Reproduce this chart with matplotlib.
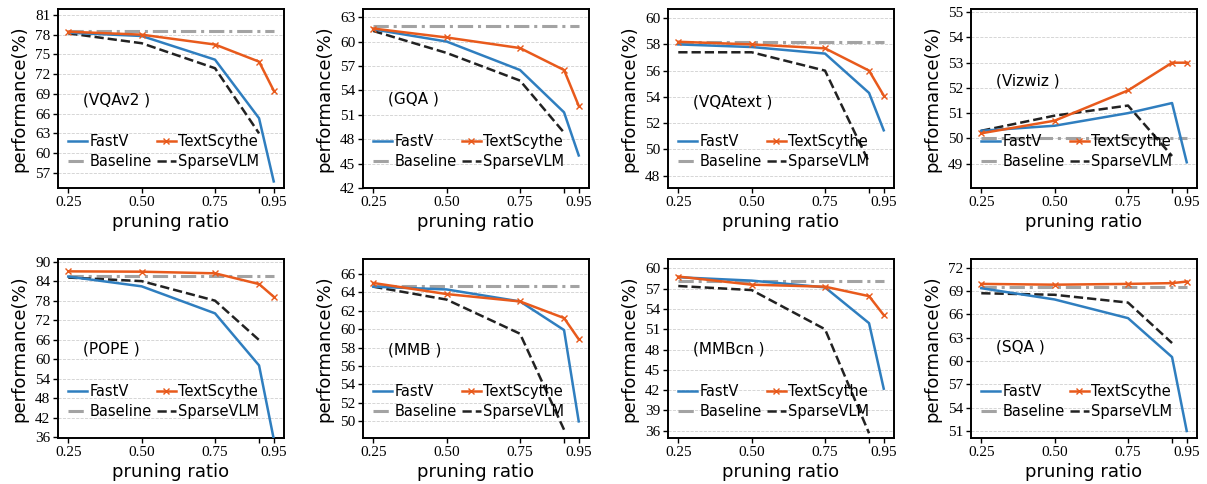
import numpy as np
import matplotlib
matplotlib.use("Agg")
import matplotlib.pyplot as plt

# pruning ratios
ratios = [0.25, 0.50, 0.75, 0.90, 0.95]
sparse_ratios = [0.25, 0.50, 0.75, 0.90]

datasets = ["VQAv2", "GQA", "VQAtext", "Vizwiz", "POPE", "MMB", "MMBcn", "SQA"]

fastv = {
    "VQAv2": [78.3, 77.8, 74.2, 65.3, 55.7],
    "GQA": [61.5, 60.0, 56.5, 51.3, 46.0],
    "VQAtext": [58.0, 57.8, 57.3, 54.3, 51.45],
    "Vizwiz": [50.3, 50.5, 51.0, 51.4, 49.05],
    "POPE": [85.4, 82.4, 74.1, 58.1, 35.5],
    "MMB": [64.6, 64.3, 63.0, 59.9, 50.0],
    "MMBcn": [58.7, 58.2, 57.2, 51.9, 42.2],
    "SQA": [69.35, 67.9, 65.5, 60.5, 51.0],
}
textscythe = {
    "VQAv2": [78.45, 78.0, 76.5, 73.9, 69.5],
    "GQA": [61.6, 60.5, 59.2, 56.5, 52.1],
    "VQAtext": [58.2, 58.0, 57.7, 56.0, 54.1],
    "Vizwiz": [50.2, 50.7, 51.9, 53.0, 53.0],
    "POPE": [87.0, 86.9, 86.4, 83.1, 79.2],
    "MMB": [65.0, 63.8, 63.0, 61.2, 58.9],
    "MMBcn": [58.8, 57.6, 57.3, 55.9, 53.1],
    "SQA": [69.9, 69.8, 69.9, 70.0, 70.2],
}
sparsevlm = {
    "VQAv2": [78.2, 76.7, 72.9, 63.0],
    "GQA": [61.3, 58.6, 55.2, 48.8],
    "VQAtext": [57.4, 57.4, 56.0, 49.0],
    "Vizwiz": [50.3, 50.9, 51.3, 49.3],
    "POPE": [85.1, 84.0, 78.0, 65.9],
    "MMB": [64.6, 63.2, 59.5, 49.1],
    "MMBcn": [57.4, 56.8, 51.0, 35.6],
    "SQA": [68.7, 68.5, 67.5, 62.3],
}
baseline = {
    "VQAv2": 78.6, "GQA": 61.9, "VQAtext": 58.2, "Vizwiz": 50.0,
    "POPE": 85.7, "MMB": 64.7, "MMBcn": 58.2, "SQA": 69.5,
}

# y ticks and limits per panel
yticks = {
    "VQAv2": np.arange(57, 82, 3),
    "GQA": np.arange(42, 64, 3),
    "VQAtext": np.arange(48, 61, 2),
    "Vizwiz": np.arange(49, 56, 1),
    "POPE": np.arange(36, 91, 6),
    "MMB": np.arange(50, 67, 2),
    "MMBcn": np.arange(36, 61, 3),
    "SQA": np.arange(51, 73, 3),
}
ylims = {
    "VQAv2": (54.7, 81.9),
    "GQA": (42.0, 64.0),
    "VQAtext": (47.05, 60.7),
    "Vizwiz": (48.03, 55.13),
    "POPE": (35.8, 90.8),
    "MMB": (48.2, 67.6),
    "MMBcn": (34.9, 61.4),
    "SQA": (50.1, 73.1),
}
label_pos = {
    "VQAv2": 0.49, "GQA": 0.50, "VQAtext": 0.48, "Vizwiz": 0.60,
    "POPE": 0.50, "MMB": 0.49, "MMBcn": 0.50, "SQA": 0.51,
}

c_fast = "#2f7ebf"
c_text = "#e85a1c"
c_base = "#a3a3a3"
c_sparse = "#222222"

W, H = 1207, 484
fig = plt.figure(figsize=(W / 100, H / 100), dpi=100)

col_left = [58, 363, 668, 971]
row_top = [9, 259]
aw, ah = 226, 179

for k, name in enumerate(datasets):
    r, c = divmod(k, 4)
    ax = fig.add_axes([col_left[c] / W, 1 - (row_top[r] + ah) / H, aw / W, ah / H])

    ax.plot([ratios[0], ratios[-1]], [baseline[name]] * 2, color=c_base,
            linestyle=(0, (5, 1.6, 1, 1.6)), lw=2.2, label="Baseline", zorder=2)
    ax.plot(sparse_ratios, sparsevlm[name], color=c_sparse, linestyle="--",
            lw=1.8, label="SparseVLM", zorder=3)
    ax.plot(ratios, fastv[name], color=c_fast, lw=1.8, label="FastV", zorder=4)
    ax.plot(ratios, textscythe[name], color=c_text, lw=1.8, marker="x",
            markersize=5, markeredgewidth=1.0, label="TextScythe", zorder=5)

    ax.set_xlim(0.215, 0.985)
    ax.set_ylim(*ylims[name])
    ax.set_xticks([0.25, 0.50, 0.75, 0.90, 0.95])
    ax.set_xticklabels(["0.25", "0.50", "0.75", "", "0.95"])
    ax.set_yticks(yticks[name])
    ax.set_yticklabels([str(v) for v in yticks[name]])
    for lab in ax.get_xticklabels() + ax.get_yticklabels():
        lab.set_fontfamily("Liberation Serif")
        lab.set_fontsize(11)
    ax.tick_params(axis="both", length=3.5, width=1.0, pad=2)
    ax.yaxis.grid(True, linestyle="--", color="#d0d0d0", lw=0.6)
    ax.set_axisbelow(True)
    for sp in ax.spines.values():
        sp.set_linewidth(1.4)

    ax.set_xlabel("pruning ratio", fontsize=13, labelpad=3)
    ax.set_ylabel("performance(%)", fontsize=13, labelpad=5)
    ax.text(0.11, label_pos[name], "(" + name + " )", transform=ax.transAxes,
            fontsize=11, va="center", ha="left")

    h, l = ax.get_legend_handles_labels()
    order = [l.index("FastV"), l.index("Baseline"), l.index("TextScythe"), l.index("SparseVLM")]
    ax.legend([h[i] for i in order], [l[i] for i in order], ncol=2, loc="lower left",
              bbox_to_anchor=(0.0, 0.05), frameon=False, fontsize=10.5,
              handlelength=1.3, handletextpad=0.15, columnspacing=0.35,
              labelspacing=0.3, borderaxespad=0.3)

fig.savefig("out.png", dpi=100)
